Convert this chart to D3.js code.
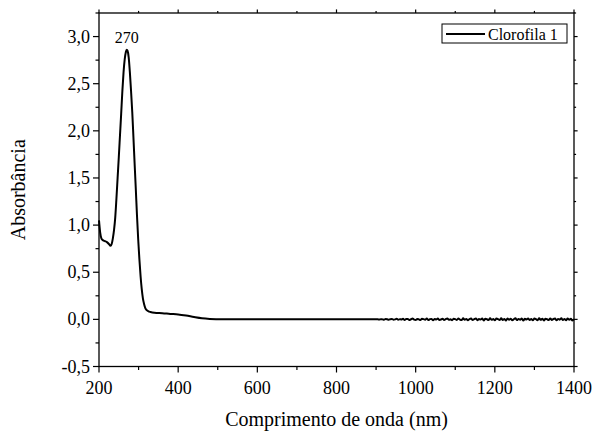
<!DOCTYPE html>
<html><head><meta charset="utf-8">
<script src="https://cdn.jsdelivr.net/npm/d3@7"></script>
<style>body{margin:0;background:#fff}svg{display:block}</style>
</head><body><svg id="c" width="598" height="435"></svg>
<script>
// Main spectrum (wavelength nm, absorbance)
const waveMain = [200,203,206,210,215,220,225,229,232,235,238,241,244,247,250,253,256,259,262,265,268,270,272,275,278,281,284,287,290,293,296,299,302,305,308,311,314,317,320,325,330,340,360,380,400,420,440,460,480,500,520,600,700,800,900];
const absMain  = [1.05,0.92,0.86,0.84,0.83,0.82,0.80,0.78,0.80,0.86,0.95,1.08,1.28,1.50,1.72,1.95,2.18,2.42,2.62,2.76,2.84,2.86,2.85,2.78,2.62,2.42,2.20,1.93,1.65,1.38,1.10,0.85,0.64,0.46,0.32,0.22,0.16,0.12,0.10,0.085,0.078,0.07,0.065,0.058,0.052,0.04,0.025,0.012,0.005,0.002,0.0,0.0,0.0,0.0,0.0];
// Noisy region 904..1400 every 4 nm (values read as small irregular wiggles)
const absNoise = [0.001,-0.002,0.002,0.0,-0.003,0.003,0.001,-0.004,0.002,0.005,
 -0.003,0.0,0.006,-0.005,0.002,-0.001,0.007,-0.006,0.003,0.004,
 -0.007,0.001,0.008,-0.002,-0.006,0.005,0.0,-0.008,0.006,0.003,
 -0.004,0.009,-0.007,0.002,0.005,-0.009,0.004,-0.001,0.008,-0.006,
 -0.002,0.007,-0.008,0.003,0.010,-0.005,0.001,-0.009,0.006,0.002,
 -0.006,0.009,-0.003,-0.008,0.011,-0.004,0.005,-0.010,0.003,0.008,
 -0.007,0.002,0.010,-0.009,0.004,-0.002,0.009,-0.011,0.006,0.001,
 -0.008,0.012,-0.005,0.003,-0.010,0.008,0.002,-0.007,0.011,-0.006,
 0.004,-0.012,0.009,-0.003,0.007,-0.009,0.001,0.012,-0.008,0.005,
 -0.004,0.010,-0.011,0.006,-0.002,0.009,-0.007,0.004,-0.010,0.008,
 0.002,-0.009,0.011,-0.005,0.007,-0.012,0.006,0.001,-0.008,0.010,
 -0.006,0.004,0.009,-0.010,0.005,-0.003,0.011,-0.007,0.003,-0.009,
 0.008,-0.004,0.006,-0.011,0.002];
const xTicks = [200,400,600,800,1000,1200,1400];
const yTicks = [-0.5,0.0,0.5,1.0,1.5,2.0,2.5,3.0];
const seriesName = "Clorofila 1";
const peakLabel = {x:270, text:"270"};

const data = waveMain.map((w,i)=>[w,absMain[i]]).concat(absNoise.map((v,i)=>[904+4*i,v]));

const svg = d3.select("#c");
const FF = "'Liberation Serif', serif";
const txt = (sel)=>sel.append("text").attr("font-family","Liberation Serif").style("font-family",FF).attr("fill","#000");
const L=99,R=574,T=13,B=366.5;
const x = d3.scaleLinear().domain([200,1400]).range([L,R]);
const y = d3.scaleLinear().domain([-0.5,3.25]).range([B,T]);
const fmt = d=>d.toFixed(1).replace(".",",");

// frame
svg.append("rect").attr("x",L).attr("y",T).attr("width",R-L).attr("height",B-T).attr("fill","none").attr("stroke","#000").attr("stroke-width",1.3);

const minorX = d3.range(200,1401,100);
const minorY = d3.range(-0.5,3.26,0.25);
const g = svg.append("g").attr("stroke","#000").attr("stroke-width",1.2);
minorX.forEach(v=>{
  const len = xTicks.includes(v)?6:3.5;
  g.append("line").attr("x1",x(v)).attr("x2",x(v)).attr("y1",B).attr("y2",B+len);
  g.append("line").attr("x1",x(v)).attr("x2",x(v)).attr("y1",T).attr("y2",T-(len*0.6));
});
minorY.forEach(v=>{
  const major = yTicks.some(t=>Math.abs(t-v)<1e-6);
  const len = major?6:3.5;
  g.append("line").attr("x1",L).attr("x2",L-len).attr("y1",y(v)).attr("y2",y(v));
  g.append("line").attr("x1",R).attr("x2",R+len*0.6).attr("y1",y(v)).attr("y2",y(v));
});

xTicks.forEach(v=>txt(svg).attr("x",x(v)).attr("y",B+27).attr("text-anchor","middle").attr("font-size",18).text(v));
yTicks.forEach(v=>txt(svg).attr("x",L-9).attr("y",y(v)+6).attr("text-anchor","end").attr("font-size",18).text(fmt(v)));

txt(svg).attr("x",(L+R)/2).attr("y",426).attr("text-anchor","middle").attr("font-size",20).text("Comprimento de onda (nm)");
txt(svg).attr("transform",`translate(25,${(T+B)/2}) rotate(-90)`).attr("text-anchor","middle").attr("font-size",20).text("Absorbância");

const line = d3.line().x(d=>x(d[0])).y(d=>y(d[1])).curve(d3.curveMonotoneX);
svg.append("path").datum(data).attr("d",line).attr("fill","none").attr("stroke","#000").attr("stroke-width",2);

txt(svg).attr("x",x(peakLabel.x)).attr("y",y(2.86)-7).attr("text-anchor","middle").attr("font-size",16).text(peakLabel.text);

// legend
svg.append("rect").attr("x",442).attr("y",24).attr("width",125).attr("height",19).attr("fill","#fff").attr("stroke","#000").attr("stroke-width",1);
svg.append("line").attr("x1",446).attr("x2",485).attr("y1",34).attr("y2",34).attr("stroke","#000").attr("stroke-width",2);
txt(svg).attr("x",488).attr("y",39.5).attr("font-size",16).text(seriesName);
</script></body></html>
